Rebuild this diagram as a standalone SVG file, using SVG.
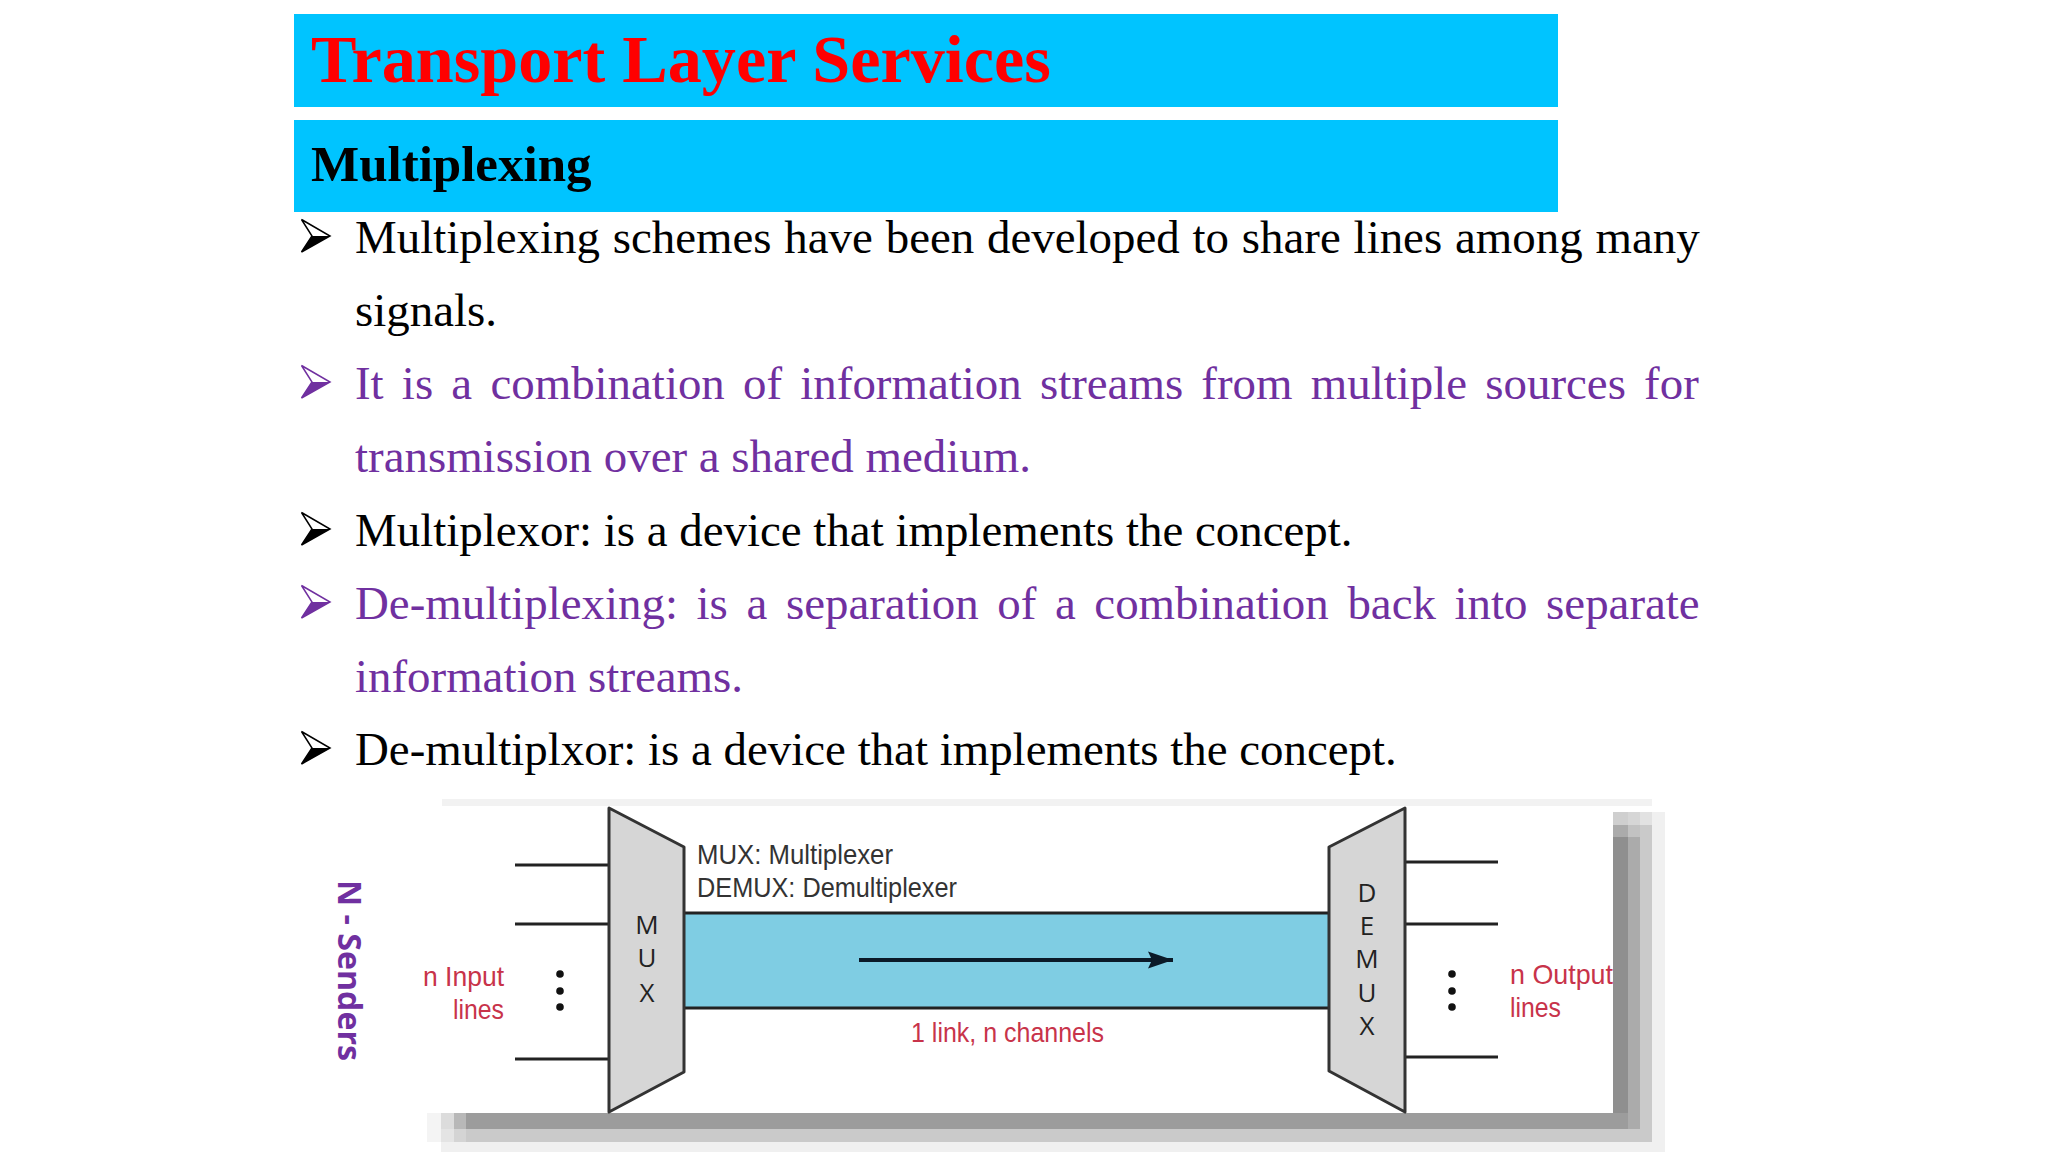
<svg xmlns="http://www.w3.org/2000/svg" width="2048" height="1152" viewBox="0 0 2048 1152">
<style>
.b{font-family:"Liberation Serif","Times New Roman",serif;font-size:46.9px;fill:#000}
.p{fill:#7030a0}
.d{font-family:"Liberation Sans",Arial,sans-serif;font-size:28px;fill:#333}
.r{font-family:"Liberation Sans",Arial,sans-serif;font-size:28px;fill:#c8334a}
.l{font-family:"Open Sans","Liberation Sans",sans-serif;font-size:26px;fill:#222;text-anchor:middle}
.w{stroke:#222;stroke-width:3;fill:none}
.m{fill:#d6d6d6;stroke:#333;stroke-width:3;stroke-linejoin:round}
</style>
<defs>
<g id="bul"><path d="M0.5 0.5L29 17L0.5 33L11 17Z" fill="#fff" stroke="currentColor" stroke-width="1.5"/><path d="M0.5 33L29 17L11 17Z" fill="currentColor"/></g>
<marker id="ah" markerUnits="userSpaceOnUse" markerWidth="26" markerHeight="18" refX="25" refY="9" orient="auto"><path d="M0 0.5L25 9L0 17.5L4 9Z" fill="#0b1a28"/></marker>
</defs>
<rect width="2048" height="1152" fill="#fff"/>
<g id="header">
<rect x="294" y="14" width="1264" height="93" fill="#00c4ff"/>
<text x="311" y="82" font-family="Liberation Serif,serif" font-weight="bold" font-size="68.2" fill="#ff0000">Transport Layer Services</text>
<rect x="294" y="120" width="1264" height="92" fill="#00c4ff"/>
<text x="311" y="181" font-family="Liberation Serif,serif" font-weight="bold" font-size="51" fill="#000">Multiplexing</text>
</g>
<g id="bullets">
<use href="#bul" x="301" y="219" color="#000"/>
<text class="b" x="355" y="253" word-spacing="1.1">Multiplexing schemes have been developed to share lines among many</text>
<text class="b" x="355" y="326">signals.</text>
<use href="#bul" x="301" y="365" color="#7030a0"/>
<text class="b p" x="355" y="399" word-spacing="6.5">It is a combination of information streams from multiple sources for</text>
<text class="b p" x="355" y="472">transmission over a shared medium.</text>
<use href="#bul" x="301" y="512" color="#000"/>
<text class="b" x="355" y="546">Multiplexor: is a device that implements the concept.</text>
<use href="#bul" x="301" y="585" color="#7030a0"/>
<text class="b p" x="355" y="619" word-spacing="6.9">De-multiplexing: is a separation of a combination back into separate</text>
<text class="b p" x="355" y="692">information streams.</text>
<use href="#bul" x="301" y="731" color="#000"/>
<text class="b" x="355" y="765">De-multiplxor: is a device that implements the concept.</text>
</g>
<g id="senders"><text transform="translate(338 880) rotate(90)" font-family="Open Sans,sans-serif" font-weight="700" font-size="32" fill="#7030a0" textLength="181" lengthAdjust="spacingAndGlyphs">N - Senders</text></g>
<g id="frame">
<rect x="442" y="799" width="1210" height="7" fill="#f2f2f2"/>
<rect x="1652" y="812" width="13" height="340" fill="#f0f0f0"/>
<rect x="1640" y="812" width="12" height="13" fill="#e2e2e2"/>
<rect x="1640" y="825" width="12" height="317" fill="#cacaca"/>
<rect x="1628" y="812" width="12" height="13" fill="#d6d6d6"/>
<rect x="1628" y="825" width="12" height="12" fill="#c2c2c2"/>
<rect x="1628" y="837" width="12" height="292" fill="#ababab"/>
<rect x="1613" y="812" width="15" height="13" fill="#cfcfcf"/>
<rect x="1613" y="825" width="15" height="12" fill="#ababab"/>
<rect x="1613" y="837" width="15" height="276" fill="#8f8f8f"/>
<rect x="427" y="1113" width="14" height="29" fill="#f4f4f4"/>
<rect x="441" y="1113" width="13" height="16" fill="#dcdcdc"/>
<rect x="454" y="1113" width="12" height="16" fill="#b8b8b8"/>
<rect x="441" y="1129" width="13" height="13" fill="#e4e4e4"/>
<rect x="454" y="1129" width="12" height="13" fill="#d4d4d4"/>
<rect x="441" y="1142" width="1224" height="10" fill="#f0f0f0"/>
<rect x="466" y="1129" width="1174" height="13" fill="#cacaca"/>
<rect x="466" y="1113" width="1162" height="16" fill="#9c9c9c"/>
</g>
<g id="connectors">
<path class="w" d="M515 865H609M515 924H609M515 1059H609"/>
<path class="w" d="M1405 862H1498M1405 924H1498M1405 1057H1498"/>
<path id="link-band" d="M684 913H1329V1008H684Z" fill="#7fcde3"/>
<path class="w" d="M684 913H1329M684 1008H1329"/>
<path d="M859 960H1173" stroke="#0b1a28" stroke-width="4" fill="none" marker-end="url(#ah)"/>
</g>
<g id="mux">
<path class="m" d="M609 808L684 847V1072L609 1112Z"/>
<text class="l" x="647" y="934">M</text><text class="l" x="647" y="967">U</text><text class="l" x="647" y="1002">X</text>
<g fill="#111"><circle cx="560" cy="974" r="3.8"/><circle cx="560" cy="991" r="3.8"/><circle cx="560" cy="1007" r="3.8"/></g>
</g>
<g id="demux">
<path class="m" d="M1405 808L1329 847V1071L1405 1112Z"/>
<text class="l" x="1367" y="902">D</text><text class="l" x="1367" y="935">E</text><text class="l" x="1367" y="968">M</text><text class="l" x="1367" y="1002">U</text><text class="l" x="1367" y="1035">X</text>
<g fill="#111"><circle cx="1452" cy="974" r="3.8"/><circle cx="1452" cy="991" r="3.8"/><circle cx="1452" cy="1007" r="3.8"/></g>
</g>
<g id="labels">
<text class="d" x="697" y="864" textLength="196" lengthAdjust="spacingAndGlyphs">MUX: Multiplexer</text>
<text class="d" x="697" y="897" textLength="260" lengthAdjust="spacingAndGlyphs">DEMUX: Demultiplexer</text>
<text class="r" x="423" y="986" textLength="81" lengthAdjust="spacingAndGlyphs">n Input</text>
<text class="r" x="453" y="1019" textLength="51" lengthAdjust="spacingAndGlyphs">lines</text>
<text class="r" x="1510" y="984" textLength="103" lengthAdjust="spacingAndGlyphs">n Output</text>
<text class="r" x="1510" y="1017" textLength="51" lengthAdjust="spacingAndGlyphs">lines</text>
<text class="r" x="911" y="1042" textLength="193" lengthAdjust="spacingAndGlyphs">1 link, n channels</text>
</g>
</svg>
